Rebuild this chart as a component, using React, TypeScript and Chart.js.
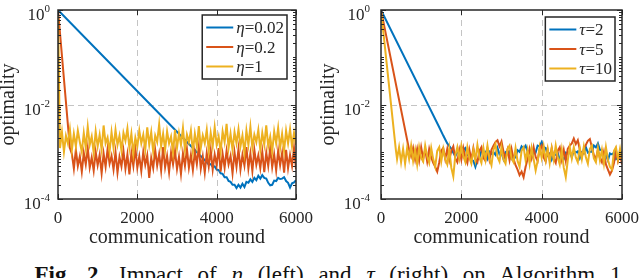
import React, { useEffect, useRef } from "react";
import { Chart, registerables } from "chart.js";

Chart.register(...registerables);

// ---------------- data ----------------
const ROUND_STEP = 50;
const X_MIN = 0;
const X_MAX = 6000;
const Y_MIN = 1e-4;
const Y_MAX = 1;
const X_TICKS = [0, 2000, 4000, 6000];
const Y_TICKS = [1, 1e-2, 1e-4];
const X_TITLE = "communication round";
const Y_TITLE = "optimality";

const ETA_SYMBOL = "η";
const ETA_VALUES = ["0.02", "0.2", "1"];
const TAU_SYMBOL = "τ";
const TAU_VALUES = ["2", "5", "10"];

// left panel, eta = 0.02
const ETA1_HEAD_X = [0];
const ETA1_HEAD_Y = [1];
const ETA1_TAIL_START = 3750;
const ETA1_TAIL_Y = [
  6.0e-4, 5.4e-4, 5.5e-4, 4.8e-4, 4.9e-4, 4.2e-4, 4.1e-4, 3.5e-4, 3.4e-4, 2.9e-4,
  2.9e-4, 2.4e-4, 2.3e-4, 2.0e-4, 2.0e-4, 1.7e-4, 2.0e-4, 1.75e-4, 2.1e-4, 1.8e-4,
  2.3e-4, 2.2e-4, 2.6e-4, 2.3e-4, 2.8e-4, 2.5e-4, 3.1e-4, 2.7e-4, 3.2e-4, 2.8e-4,
  2.7e-4, 2.2e-4, 1.95e-4, 2.0e-4, 2.45e-4, 2.4e-4, 2.8e-4, 2.65e-4, 2.7e-4, 2.9e-4,
  2.4e-4, 2.2e-4, 1.75e-4, 2.15e-4, 2.25e-4, 2.5e-4,
];
// left panel, eta = 0.2
const ETA2_HEAD_X = [0, 300];
const ETA2_HEAD_Y = [1, 1.2e-3];
const ETA2_TAIL_START = 350;
const ETA2_TAIL_Y = [
  9.0e-4, 4.4e-4, 1.1e-3, 5.0e-4, 8.0e-4, 3.8e-4, 9.5e-4, 5.4e-4, 1.2e-3, 4.6e-4,
  7.6e-4, 4.0e-4, 1.0e-3, 5.2e-4, 8.6e-4, 3.5e-4, 9.2e-4, 4.8e-4, 1.15e-3, 5.6e-4,
  8.2e-4, 4.2e-4, 9.8e-4, 3.6e-4, 7.8e-4, 4.9e-4, 1.05e-3, 4.4e-4, 8.8e-4, 3.3e-4,
  9.4e-4, 5.0e-4, 1.2e-3, 4.6e-4, 8.0e-4, 3.9e-4, 1.0e-3, 5.3e-4, 8.4e-4, 2.8e-4,
  7.4e-4, 4.5e-4, 1.1e-3, 5.1e-4, 9.0e-4, 4.0e-4, 1.25e-3, 4.7e-4, 8.2e-4, 3.7e-4,
  9.6e-4, 5.4e-4, 1.05e-3, 4.3e-4, 7.8e-4, 3.4e-4, 9.2e-4, 5.0e-4, 1.15e-3, 4.6e-4,
  8.6e-4, 4.1e-4, 1.0e-3, 5.5e-4, 1.3e-3, 4.4e-4, 8.0e-4, 3.6e-4, 9.4e-4, 4.9e-4,
  1.1e-3, 4.2e-4, 8.8e-4, 5.2e-4, 1.2e-3, 3.8e-4, 9.0e-4, 4.6e-4, 1.05e-3, 5.4e-4,
  8.2e-4, 3.5e-4, 9.8e-4, 4.8e-4, 1.15e-3, 4.2e-4, 8.6e-4, 5.1e-4, 1.25e-3, 4.4e-4,
  9.2e-4, 3.9e-4, 1.1e-3, 5.3e-4, 8.4e-4, 4.5e-4, 1.0e-3, 3.7e-4, 9.6e-4, 5.0e-4,
  1.2e-3, 4.7e-4, 8.8e-4, 4.0e-4, 1.05e-3, 5.2e-4, 9.4e-4, 3.6e-4, 1.1e-3, 4.5e-4,
  8.6e-4, 5.0e-4, 1.2e-3, 4.3e-4,
];
// left panel, eta = 1
const ETA3_HEAD_X = [0];
const ETA3_HEAD_Y = [1];
const ETA3_TAIL_START = 50;
const ETA3_TAIL_Y = [
  1.2e-3, 2.6e-3, 1.0e-3, 2.2e-3, 1.5e-3, 3.0e-3, 1.1e-3, 2.4e-3, 1.3e-3, 2.8e-3,
  1.6e-3, 1.0e-3, 2.5e-3, 1.2e-3, 3.4e-3, 1.4e-3, 2.1e-3, 0.95e-3, 2.7e-3, 1.3e-3,
  2.3e-3, 1.1e-3, 3.6e-3, 1.5e-3, 2.0e-3, 1.0e-3, 2.6e-3, 1.2e-3, 2.9e-3, 1.4e-3,
  2.2e-3, 1.05e-3, 2.5e-3, 1.7e-3, 3.1e-3, 1.2e-3, 2.4e-3, 0.9e-3, 2.0e-3, 1.3e-3,
  2.8e-3, 1.5e-3, 2.3e-3, 1.1e-3, 3.3e-3, 1.4e-3, 2.6e-3, 1.0e-3, 2.2e-3, 1.6e-3,
  3.8e-3, 1.3e-3, 2.4e-3, 1.1e-3, 2.7e-3, 1.5e-3, 2.1e-3, 0.95e-3, 2.9e-3, 1.2e-3,
  2.5e-3, 1.4e-3, 3.2e-3, 1.1e-3, 2.3e-3, 1.6e-3, 2.8e-3, 1.0e-3, 2.4e-3, 1.3e-3,
  3.5e-3, 1.2e-3, 2.2e-3, 1.5e-3, 2.9e-3, 1.05e-3, 2.5e-3, 1.3e-3, 3.3e-3, 1.4e-3,
  2.1e-3, 1.0e-3, 2.7e-3, 1.6e-3, 3.9e-3, 1.2e-3, 2.4e-3, 1.1e-3, 2.6e-3, 1.5e-3,
  3.0e-3, 1.3e-3, 2.2e-3, 0.95e-3, 2.8e-3, 1.4e-3, 3.4e-3, 1.2e-3, 2.3e-3, 1.6e-3,
  2.9e-3, 1.1e-3, 2.5e-3, 1.4e-3, 3.6e-3, 1.3e-3, 2.1e-3, 1.0e-3, 2.7e-3, 1.5e-3,
  3.2e-3, 1.2e-3, 2.4e-3, 1.05e-3, 2.8e-3, 1.5e-3, 3.0e-3, 1.3e-3, 2.5e-3, 1.4e-3,
];

// right panel, tau = 2
const TAU1_HEAD_X = [0, 1450, 1550, 1650, 1750];
const TAU1_HEAD_Y = [1, 3.3e-3, 2.2e-3, 1.5e-3, 1.15e-3];
const TAU1_TAIL_START = 1800;
const TAU1_TAIL_Y = [
  9.5e-4, 8.0e-4, 1.0e-3, 9.6e-4, 1.25e-3, 1.1e-3, 1.2e-3, 8.6e-4, 9.2e-4, 6.8e-4,
  6.4e-4, 4.8e-4, 6.8e-4, 7.4e-4, 1.05e-3, 9.4e-4, 1.0e-3, 7.2e-4, 1.0e-3, 9.0e-4,
  9.8e-4, 8.6e-4, 1.2e-3, 8.8e-4, 9.4e-4, 7.0e-4, 9.8e-4, 9.0e-4, 1.02e-3, 7.2e-4,
  8.2e-4, 7.6e-4, 1.08e-3, 1.0e-3, 1.3e-3, 1.18e-3, 1.35e-3, 1.0e-3, 1.04e-3, 7.6e-4,
  9.8e-4, 9.6e-4, 1.35e-3, 1.3e-3, 1.6e-3, 1.25e-3, 1.2e-3, 8.4e-4, 9.2e-4, 6.8e-4,
  9.0e-4, 8.6e-4, 9.4e-4, 6.8e-4, 7.4e-4, 7.0e-4, 9.6e-4, 9.2e-4, 1.0e-3, 7.6e-4,
  1.05e-3, 9.6e-4, 1.02e-3, 7.4e-4, 9.8e-4, 9.2e-4, 1.25e-3, 9.6e-4, 1.0e-3, 1.0e-3,
  1.35e-3, 1.24e-3, 1.5e-3, 1.1e-3, 1.08e-3, 8.0e-4, 8.6e-4, 6.6e-4, 9.2e-4, 8.8e-4,
  9.6e-4, 7.0e-4, 7.6e-4, 7.6e-4, 1.02e-3,
];
// right panel, tau = 5
const TAU2_HEAD_X = [0, 700];
const TAU2_HEAD_Y = [1, 1.1e-3];
const TAU2_TAIL_START = 750;
const TAU2_TAIL_Y = [
  8.0e-4, 1.2e-3, 6.8e-4, 1.15e-3, 6.4e-4, 1.25e-3, 7.2e-4, 1.1e-3, 6.2e-4, 1.15e-3,
  7.6e-4, 5.8e-4, 4.8e-4, 3.8e-4, 6.0e-4, 1.05e-3, 1.2e-3, 7.0e-4, 1.15e-3, 6.6e-4,
  1.05e-3, 1.3e-3, 7.2e-4, 6.0e-4, 1.1e-3, 6.8e-4, 1.2e-3, 7.6e-4, 5.8e-4, 1.1e-3,
  6.6e-4, 1.2e-3, 7.0e-4, 6.0e-4, 1.05e-3, 1.25e-3, 7.4e-4, 6.4e-4, 1.15e-3, 6.8e-4,
  1.1e-3, 1.35e-3, 1.6e-3, 1.75e-3, 1.3e-3, 1.65e-3, 1.0e-3, 7.2e-4, 1.1e-3, 6.6e-4,
  1.15e-3, 7.0e-4, 5.2e-4, 4.2e-4, 3.2e-4, 3.8e-4, 2.9e-4, 4.8e-4, 7.0e-4, 1.15e-3,
  7.4e-4, 1.25e-3, 7.8e-4, 6.4e-4, 1.15e-3, 1.35e-3, 7.6e-4, 6.2e-4, 1.1e-3, 6.8e-4,
  1.2e-3, 7.2e-4, 5.8e-4, 1.05e-3, 1.25e-3, 6.8e-4, 1.1e-3, 6.4e-4, 1.15e-3, 1.35e-3,
  1.5e-3, 1.9e-3, 1.45e-3, 1.75e-3, 1.1e-3, 7.8e-4, 1.15e-3, 1.4e-3, 1.7e-3, 1.85e-3,
  1.25e-3, 8.4e-4, 7.0e-4, 1.1e-3, 7.4e-4, 6.0e-4, 9.8e-4, 5.4e-4, 4.2e-4, 3.3e-4,
  4.0e-4, 5.8e-4, 1.05e-3, 6.4e-4, 9.0e-4, 5.4e-4,
];
// right panel, tau = 10
const TAU3_HEAD_X = [0, 370];
const TAU3_HEAD_Y = [1, 1.1e-3];
const TAU3_TAIL_START = 400;
const TAU3_TAIL_Y = [
  7.0e-4, 1.25e-3, 6.0e-4, 1.15e-3, 5.6e-4, 1.2e-3, 7.0e-4, 1.35e-3, 6.4e-4, 1.1e-3,
  5.4e-4, 1.25e-3, 7.4e-4, 6.2e-4, 1.35e-3, 8.0e-4, 5.8e-4, 1.2e-3, 7.0e-4, 4.8e-4,
  1.05e-3, 1.25e-3, 6.2e-4, 1.15e-3, 7.0e-4, 5.4e-4, 1.15e-3, 4.6e-4, 3.0e-4, 8.4e-4,
  1.25e-3, 7.2e-4, 1.35e-3, 8.0e-4, 6.0e-4, 1.25e-3, 7.4e-4, 5.6e-4, 1.1e-3, 6.6e-4,
  1.4e-3, 7.6e-4, 5.8e-4, 1.2e-3, 6.8e-4, 1.35e-3, 7.2e-4, 5.2e-4, 1.1e-3, 1.45e-3,
  7.8e-4, 6.2e-4, 1.25e-3, 6.8e-4, 5.6e-4, 1.15e-3, 1.35e-3, 7.2e-4, 6.0e-4, 1.2e-3,
  6.4e-4, 4.8e-4, 1.05e-3, 1.25e-3, 6.6e-4, 1.1e-3, 5.6e-4, 1.2e-3, 7.0e-4, 4.0e-4,
  6.4e-4, 1.25e-3, 7.4e-4, 1.3e-3, 6.6e-4, 1.15e-3, 5.8e-4, 1.2e-3, 6.8e-4, 1.35e-3,
  7.6e-4, 5.4e-4, 1.1e-3, 4.6e-4, 2.9e-4, 6.6e-4, 1.25e-3, 7.2e-4, 1.25e-3, 7.6e-4,
  6.0e-4, 1.2e-3, 7.0e-4, 1.3e-3, 7.6e-4, 5.6e-4, 1.15e-3, 1.35e-3, 7.2e-4, 6.0e-4,
  1.2e-3, 6.6e-4, 1.1e-3, 5.6e-4, 1.25e-3, 6.8e-4, 4.8e-4, 4.2e-4, 1.05e-3, 1.25e-3,
  6.8e-4, 1.15e-3, 6.4e-4,
];

// ---------------- styling ----------------
const COLORS = ["#0072BD", "#D95319", "#EDB120"];
const SERIF = '"Liberation Serif", "Times New Roman", serif';
const AXIS_COLOR = "#262626";

type Pt = { x: number; y: number };
function buildSeries(headX: number[], headY: number[], tailStart: number, tailY: number[]): Pt[] {
  const pts: Pt[] = headX.map((x, i) => ({ x, y: headY[i] }));
  tailY.forEach((y, i) => pts.push({ x: tailStart + i * ROUND_STEP, y }));
  return pts;
}

type PanelCfg = {
  padding: { left: number; right: number; top: number; bottom: number };
  yLabelRight: number;
  yTitleX: number;
  legendInsetRight: number;
  legendInsetTop: number;
  symbol: string;
  values: string[];
  series: Pt[][];
};

function makeDecor(cfg: PanelCfg) {
  return {
    id: "decor",
    beforeDatasetsDraw(chart: any) {
      const { ctx, chartArea: a, scales } = chart;
      const x = scales.x;
      const y = scales.y;
      ctx.save();
      ctx.strokeStyle = "#c4c4c4";
      ctx.lineWidth = 1;
      ctx.setLineDash([6, 4]);
      X_TICKS.forEach((v) => {
        if (v === X_MIN || v === X_MAX) return;
        const px = Math.round(x.getPixelForValue(v)) + 0.5;
        ctx.beginPath();
        ctx.moveTo(px, a.top);
        ctx.lineTo(px, a.bottom);
        ctx.stroke();
      });
      Y_TICKS.forEach((v) => {
        if (v === Y_MIN || v === Y_MAX) return;
        const py = Math.round(y.getPixelForValue(v)) + 0.5;
        ctx.beginPath();
        ctx.moveTo(a.left, py);
        ctx.lineTo(a.right, py);
        ctx.stroke();
      });
      ctx.restore();
    },
    afterDatasetsDraw(chart: any) {
      const { ctx, chartArea: a, scales } = chart;
      const x = scales.x;
      const y = scales.y;
      ctx.save();
      // frame
      ctx.strokeStyle = AXIS_COLOR;
      ctx.lineWidth = 1.5;
      ctx.setLineDash([]);
      ctx.strokeRect(a.left, a.top, a.right - a.left, a.bottom - a.top);
      // ticks
      ctx.lineWidth = 1;
      const line = (x1: number, y1: number, x2: number, y2: number) => {
        ctx.beginPath();
        ctx.moveTo(x1, y1);
        ctx.lineTo(x2, y2);
        ctx.stroke();
      };
      X_TICKS.forEach((v) => {
        const px = Math.round(x.getPixelForValue(v)) + 0.5;
        line(px, a.bottom, px, a.bottom - 5);
        line(px, a.top, px, a.top + 5);
      });
      const eMin = Math.round(Math.log10(Y_MIN));
      const eMax = Math.round(Math.log10(Y_MAX));
      for (let e = eMin; e <= eMax; e++) {
        for (let m = 1; m <= 9; m++) {
          const v = m * Math.pow(10, e);
          if (v > Y_MAX * 1.0001) break;
          const py = Math.round(y.getPixelForValue(v)) + 0.5;
          const len = m === 1 && Y_TICKS.some((t) => Math.abs(t - v) < v * 1e-6) ? 5 : 3;
          line(a.left, py, a.left + len, py);
          line(a.right, py, a.right - len, py);
        }
      }
      // y tick labels: 10^e
      ctx.fillStyle = "#262626";
      ctx.textAlign = "left";
      ctx.textBaseline = "alphabetic";
      Y_TICKS.forEach((v) => {
        const py = y.getPixelForValue(v);
        const exp = String(Math.round(Math.log10(v)));
        ctx.font = `17px ${SERIF}`;
        const wBase = ctx.measureText("10").width;
        ctx.font = `11px ${SERIF}`;
        const wExp = ctx.measureText(exp).width;
        const left = cfg.yLabelRight - wBase - wExp;
        ctx.font = `17px ${SERIF}`;
        ctx.fillText("10", left, py + 10);
        ctx.font = `11px ${SERIF}`;
        ctx.fillText(exp, left + wBase, py + 2);
      });
      // x tick labels
      ctx.font = `17px ${SERIF}`;
      ctx.textAlign = "center";
      X_TICKS.forEach((v) => {
        const px = x.getPixelForValue(v);
        ctx.fillText(String(v), px, a.bottom + 24);
      });
      // axis titles
      ctx.font = `20px ${SERIF}`;
      ctx.fillText(X_TITLE, (a.left + a.right) / 2, a.bottom + 44);
      ctx.save();
      ctx.translate(cfg.yTitleX, (a.top + a.bottom) / 2);
      ctx.rotate(-Math.PI / 2);
      ctx.textBaseline = "middle";
      ctx.fillText(Y_TITLE, 0, 0);
      ctx.restore();
      // legend
      ctx.font = `italic 17px ${SERIF}`;
      const wSym = ctx.measureText(cfg.symbol).width;
      ctx.font = `17px ${SERIF}`;
      const rest = cfg.values.map((v) => "=" + v);
      const wRest = Math.max(...rest.map((r) => ctx.measureText(r).width));
      const lineLen = 27;
      const boxW = 4 + lineLen + 3 + wSym + wRest + 3;
      const rowGap = 19.5;
      const rowTop = 12.5;
      const boxH = rowTop * 2 + rowGap * (cfg.values.length - 1);
      const bx = a.right - cfg.legendInsetRight - boxW;
      const by = a.top + cfg.legendInsetTop;
      ctx.fillStyle = "#ffffff";
      ctx.fillRect(bx, by, boxW, boxH);
      ctx.strokeStyle = AXIS_COLOR;
      ctx.lineWidth = 1.5;
      ctx.strokeRect(bx, by, boxW, boxH);
      cfg.values.forEach((_, i) => {
        const ry = by + rowTop + i * rowGap;
        ctx.strokeStyle = COLORS[i];
        ctx.lineWidth = 2;
        line(bx + 4, ry, bx + 4 + lineLen, ry);
        ctx.fillStyle = "#262626";
        ctx.textAlign = "left";
        ctx.textBaseline = "alphabetic";
        const tx = bx + 4 + lineLen + 3;
        ctx.font = `italic 17px ${SERIF}`;
        ctx.fillText(cfg.symbol, tx, ry + 5.5);
        ctx.font = `17px ${SERIF}`;
        ctx.fillText(rest[i], tx + wSym, ry + 5.5);
      });
      ctx.restore();
    },
  };
}

function Panel({ cfg, left }: { cfg: PanelCfg; left: number }) {
  const ref = useRef<HTMLCanvasElement>(null);
  useEffect(() => {
    if (!ref.current) return;
    const chart = new Chart(ref.current, {
      type: "line",
      data: {
        datasets: cfg.series.map((data, i) => ({
          label: cfg.symbol + "=" + cfg.values[i],
          data,
          borderColor: COLORS[i],
          backgroundColor: COLORS[i],
          borderWidth: 2,
          pointRadius: 0,
          fill: false,
          tension: 0,
          order: cfg.series.length - i,
        })),
      },
      options: {
        responsive: false,
        maintainAspectRatio: false,
        devicePixelRatio: 1,
        animation: false,
        events: [],
        layout: { padding: cfg.padding },
        scales: {
          x: { type: "linear", min: X_MIN, max: X_MAX, display: false },
          y: { type: "logarithmic", min: Y_MIN, max: Y_MAX, display: false },
        },
        plugins: { legend: { display: false }, tooltip: { enabled: false } },
      },
      plugins: [makeDecor(cfg)],
    } as any);
    return () => chart.destroy();
  }, [cfg]);
  return (
    <canvas
      ref={ref}
      width={320}
      height={260}
      style={{ position: "absolute", left, top: 0, width: 320, height: 260 }}
    />
  );
}

const LEFT_CFG: PanelCfg = {
  padding: { left: 58, right: 24, top: 10, bottom: 61 },
  yLabelRight: 50,
  yTitleX: 9,
  legendInsetRight: 9,
  legendInsetTop: 5,
  symbol: ETA_SYMBOL,
  values: ETA_VALUES,
  series: [
    buildSeries(ETA1_HEAD_X, ETA1_HEAD_Y, ETA1_TAIL_START, ETA1_TAIL_Y),
    buildSeries(ETA2_HEAD_X, ETA2_HEAD_Y, ETA2_TAIL_START, ETA2_TAIL_Y),
    buildSeries(ETA3_HEAD_X, ETA3_HEAD_Y, ETA3_TAIL_START, ETA3_TAIL_Y),
  ],
};

const RIGHT_CFG: PanelCfg = {
  padding: { left: 61, right: 18, top: 10, bottom: 61 },
  yLabelRight: 50,
  yTitleX: 9,
  legendInsetRight: 7,
  legendInsetTop: 7,
  symbol: TAU_SYMBOL,
  values: TAU_VALUES,
  series: [
    buildSeries(TAU1_HEAD_X, TAU1_HEAD_Y, TAU1_TAIL_START, TAU1_TAIL_Y),
    buildSeries(TAU2_HEAD_X, TAU2_HEAD_Y, TAU2_TAIL_START, TAU2_TAIL_Y),
    buildSeries(TAU3_HEAD_X, TAU3_HEAD_Y, TAU3_TAIL_START, TAU3_TAIL_Y),
  ],
};

export default function App() {
  return (
    <div
      style={{
        position: "absolute",
        left: 0,
        top: 0,
        width: 640,
        height: 278,
        overflow: "hidden",
        background: "#ffffff",
      }}
    >
      <Panel cfg={LEFT_CFG} left={0} />
      <Panel cfg={RIGHT_CFG} left={320} />
      <div
        style={{
          position: "absolute",
          left: 8,
          top: 263,
          width: 640,
          textAlign: "center",
          fontFamily: SERIF,
          fontSize: 23,
          lineHeight: "23px",
          whiteSpace: "nowrap",
          wordSpacing: "9px",
          color: "#111",
        }}
      >
        <b>Fig. 2.</b> Impact of <i>η</i> (left) and <i>τ</i> (right) on Algorithm 1
      </div>
    </div>
  );
}
